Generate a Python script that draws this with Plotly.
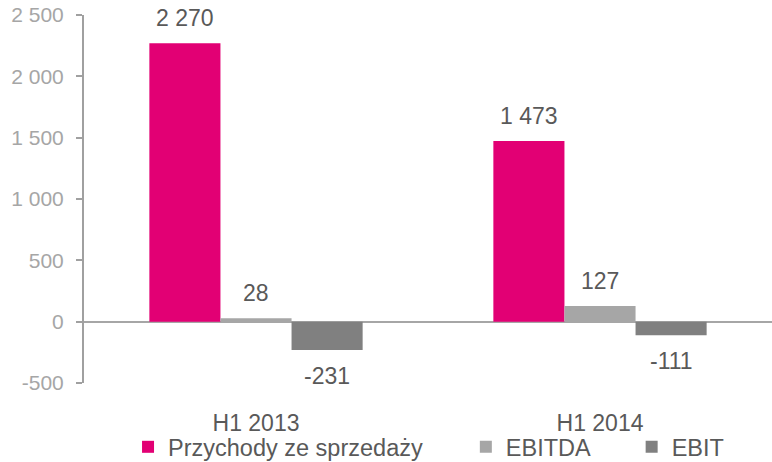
import plotly.graph_objects as go

categories = ["H1 2013", "H1 2014"]
series_names = ["Przychody ze sprzedaży", "EBITDA", "EBIT"]
revenue = [2270, 1473]
ebitda = [28, 127]
ebit = [-231, -111]
series_values = [revenue, ebitda, ebit]
series_colors = ["#E20074", "#A6A6A6", "#808080"]
y_tickvals = [-500, 0, 500, 1000, 1500, 2000, 2500]
y_ticktext = ["-500", "0", "500", "1 000", "1 500", "2 000", "2 500"]

FONT = "Liberation Sans, Arial, sans-serif"
W, H = 772, 462
ML, MR, MT, MB = 84, 0, 15, 79
plot_w = W - ML - MR
group_px = plot_w / len(categories)
bargap = 0.38
bar_px = group_px * (1 - bargap) / len(series_names)


def fmt(v):
    s = f"{abs(v):,}".replace(",", " ")
    return ("-" if v < 0 else "") + s


fig = go.Figure()
legend_ids = ["legend", "legend2", "legend3"]
for i, (name, vals, col) in enumerate(zip(series_names, series_values, series_colors)):
    fig.add_trace(go.Bar(
        x=categories, y=vals, name=name,
        marker=dict(color=col, line=dict(width=0)),
        legend=legend_ids[i], hoverinfo="skip",
    ))
    for c, v in zip(categories, vals):
        fig.add_annotation(
            x=c, y=v, text=fmt(v), showarrow=False,
            xshift=(i - 1) * bar_px,
            yanchor="bottom" if v >= 0 else "top",
            yshift=10 if v >= 0 else -11,
            font=dict(family=FONT, size=23, color="#595959"),
        )

legend_common = dict(
    orientation="h", xanchor="left", yanchor="middle", y=-0.174,
    font=dict(family=FONT, size=23.5, color="#595959"),
    bgcolor="rgba(0,0,0,0)", borderwidth=0, itemwidth=30,
)

fig.update_layout(
    width=W, height=H,
    margin=dict(l=ML, r=MR, t=MT, b=MB, autoexpand=False),
    paper_bgcolor="white", plot_bgcolor="white",
    barmode="group", bargap=bargap, bargroupgap=0,
    separators=", ",
    font=dict(family=FONT, color="#595959"),
    showlegend=True,
    legend=dict(x=0.064, **legend_common),
    legend2=dict(x=0.555, **legend_common),
    legend3=dict(x=0.796, **legend_common),
    xaxis=dict(
        showline=False, ticks="", showgrid=False, automargin=False,
        tickfont=dict(family=FONT, size=23, color="#595959"),
        ticklabelstandoff=24,
    ),
    yaxis=dict(
        range=[-500, 2500], tickvals=y_tickvals, ticktext=y_ticktext,
        showgrid=False, showline=True, linecolor="#A0A0A0", linewidth=2,
        ticks="outside", ticklen=6, tickwidth=2, tickcolor="#A0A0A0",
        zeroline=True, zerolinecolor="#A6A6A6", zerolinewidth=2,
        tickfont=dict(family=FONT, size=21, color="#A6A6A6"),
        ticklabelstandoff=8, automargin=False,
    ),
)

fig.write_html(
    "out.html",
    config={"displayModeBar": False},
    post_script="document.body.style.margin='0';document.body.style.overflow='hidden';",
)
